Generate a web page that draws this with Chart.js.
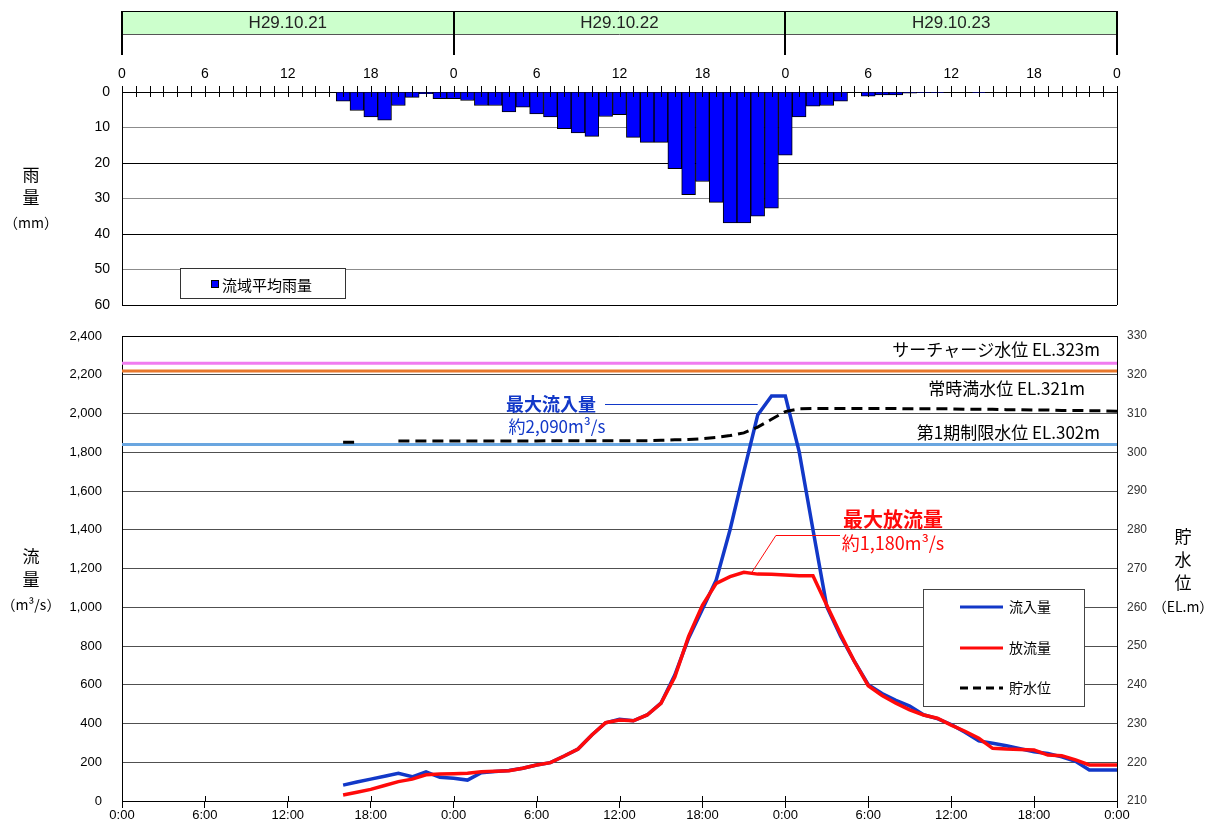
<!DOCTYPE html>
<html lang="ja">
<head>
<meta charset="utf-8">
<title>流入量・放流量・貯水位</title>
<script src="https://cdn.jsdelivr.net/npm/chart.js@4.4.1/dist/chart.umd.min.js"></script>
<style>
  html, body { margin: 0; padding: 0; background: #fff; }
  #wrap { position: relative; width: 1210px; height: 830px; overflow: hidden; }
  #rain { position: absolute; left: 0; top: 0; }
  #flow { position: absolute; left: 0; top: 320px; }
</style>
</head>
<body>
<div id="wrap">
  <canvas id="rain" width="1210" height="320"></canvas>
  <canvas id="flow" width="1210" height="510"></canvas>
</div>
<script>
// ---- data -------------------------------------------------------------
// Day band above the rain chart
const dayLabels = ['H29.10.21', 'H29.10.22', 'H29.10.23'];
// Hour labels (every 6 h) for the two time axes
const rainHourLabels = ['0', '6', '12', '18'];
const flowTimeLabels = ['0:00', '6:00', '12:00', '18:00'];

// Basin-average hourly rainfall (mm); hour counted from 0:00 on 10/21
const rainHours = [16, 17, 18, 19, 20, 21, 22, 23, 24, 25, 26, 27, 28, 29, 30, 31,
                   32, 33, 34, 35, 36, 37, 38, 39, 40, 41, 42, 43, 44, 45, 46, 47,
                   48, 49, 50, 51, 52, 54, 55, 56, 57, 58, 59, 62];
const rainMm =    [2.6, 5.2, 7.0, 7.9, 3.8, 1.5, 0.5, 1.9, 1.9, 2.4, 3.8, 3.8, 5.6, 4.3, 6.2, 7.0,
                   10.3, 11.5, 12.5, 6.9, 6.4, 12.8, 14.2, 14.2, 21.6, 28.9, 25.2, 31.1, 36.9, 36.9, 35.0, 32.7,
                   17.8, 7.0, 4.0, 3.8, 2.6, 1.2, 0.8, 0.8, 0.3, 0.2, 0.2, 0.2];

// Hourly inflow / outflow (m3/s) and reservoir level (EL.m)
const flowHours = [16, 17, 18, 19, 20, 21, 22, 23, 24, 25, 26, 27, 28, 29, 30, 31, 32, 33, 34,
                   35, 36, 37, 38, 39, 40, 41, 42, 43, 44, 45, 46, 47, 48, 49, 50, 51, 52, 53,
                   54, 55, 56, 57, 58, 59, 60, 61, 62, 63, 64, 65, 66, 67, 68, 69, 70, 71, 72];
const inflow =  [82, 98, 113, 128, 143, 125, 150, 122, 117, 108, 146, 152, 157, 169, 186, 198, 232, 268, 341,
                 404, 422, 414, 444, 505, 650, 840, 990, 1141, 1400, 1700, 1992, 2090, 2090, 1803, 1400, 1003, 850, 720,
                 600, 555, 520, 490, 445, 425, 395, 355, 310, 298, 285, 270, 254, 245, 228, 205, 160, 160, 160];
const outflow = [31, 45, 60, 80, 100, 113, 135, 139, 141, 143, 151, 153, 156, 169, 186, 198, 232, 268, 341,
                 404, 418, 414, 444, 504, 640, 850, 1010, 1123, 1158, 1180, 1171, 1170, 1166, 1163, 1163, 1010, 860, 720,
                 595, 545, 505, 470, 444, 427, 392, 360, 324, 272, 268, 266, 263, 237, 234, 212, 186, 186, 186];
const storageLevel = [302.6, 302.6, null, null, 302.9, 302.9, 302.9, 302.9, 302.9, 302.9, 302.9, 302.9, 302.9, 302.9, 302.9, 303.0, 303.0, 303.0, 303.0,
                      303.0, 303.0, 303.0, 303.0, 303.1, 303.2, 303.3, 303.5, 303.8, 304.3, 305.0, 306.5, 308.5, 310.5, 311.2, 311.3, 311.3, 311.3, 311.3,
                      311.3, 311.3, 311.3, 311.2, 311.2, 311.2, 311.2, 311.1, 311.1, 311.1, 311.0, 311.0, 310.9, 310.9, 310.8, 310.8, 310.7, 310.7, 310.6];

// Reference water levels (EL.m)
const refLevelNames = ['サーチャージ水位', '常時満水位', '第1期制限水位'];
const refLevels = [323, 321, 302];

// ---- styling helpers --------------------------------------------------
const NUM_FONT = "'Liberation Sans', Arial, sans-serif";
const JP_FONT = "'Noto Sans CJK JP', 'Noto Sans', sans-serif";
const INFLOW_COLOR = '#1238c8';
const OUTFLOW_COLOR = '#ff0a0a';
const REF_COLORS = ['#f07cf0', '#e8782c', '#6aa6e0'];

const crisp = v => Math.round(v) + 0.5;
const fmt = v => v.toLocaleString('en-US');
const hm = (hours, values) => hours.map((h, i) => ({ x: h, y: values[i] }));

// fixed axis box sizes; label overhang must not shrink the plot area
const fixWidth = w => s => { s.width = w; s.paddingTop = 0; s.paddingBottom = 0; };
const fixHeight = h => s => { s.height = h; s.paddingLeft = 0; s.paddingRight = 0; };

function vText(ctx, lines, x, ys, sizes) {
  ctx.textAlign = 'center';
  ctx.textBaseline = 'middle';
  ctx.fillStyle = '#000';
  lines.forEach((t, i) => {
    ctx.font = `${sizes[i]}px ${JP_FONT}`;
    ctx.fillText(t, x, ys[i]);
  });
}

// ---- rain chart -------------------------------------------------------
const rainDecor = {
  id: 'rainDecor',
  afterDraw(chart) {
    const { ctx, chartArea: a, scales: { x } } = chart;
    ctx.save();

    // day band
    const bandTop = 11, bandBottom = 34, dividerBottom = 55;
    dayLabels.forEach((d, i) => {
      const x0 = x.getPixelForValue(i * 24), x1 = x.getPixelForValue(i * 24 + 24);
      ctx.fillStyle = '#ccffcc';
      ctx.fillRect(x0, bandTop, x1 - x0, bandBottom - bandTop);
      ctx.fillStyle = '#222';
      ctx.font = `17px ${NUM_FONT}`;
      ctx.textAlign = 'center';
      ctx.textBaseline = 'middle';
      ctx.fillText(d, (x0 + x1) / 2, (bandTop + bandBottom) / 2 + 1);
    });
    ctx.lineWidth = 1;
    ctx.strokeStyle = '#000';
    ctx.beginPath();
    ctx.moveTo(a.left, bandTop + 0.5); ctx.lineTo(a.right, bandTop + 0.5);
    ctx.stroke();
    ctx.strokeStyle = '#555';
    ctx.beginPath();
    ctx.moveTo(a.left, bandBottom + 0.5); ctx.lineTo(a.right, bandBottom + 0.5);
    ctx.stroke();
    ctx.strokeStyle = '#000';
    ctx.lineWidth = 2;
    ctx.beginPath();
    for (let i = 0; i <= dayLabels.length; i++) {
      const px = Math.round(x.getPixelForValue(i * 24));
      ctx.moveTo(px, bandTop); ctx.lineTo(px, dividerBottom);
    }
    ctx.stroke();

    // hourly tick marks across the time axis
    ctx.lineWidth = 1;
    ctx.beginPath();
    for (let h = 0; h <= 72; h++) {
      const px = crisp(x.getPixelForValue(h));
      ctx.moveTo(px, a.top - 6); ctx.lineTo(px, a.top + 5);
    }
    // right and bottom frame
    ctx.moveTo(crisp(a.right), a.top); ctx.lineTo(crisp(a.right), a.bottom);
    ctx.moveTo(a.left, crisp(a.bottom)); ctx.lineTo(a.right, crisp(a.bottom));
    ctx.stroke();

    // legend
    ctx.fillStyle = '#fff';
    ctx.strokeStyle = '#333';
    ctx.fillRect(180.5, 268.5, 165, 30);
    ctx.strokeRect(180.5, 268.5, 165, 30);
    ctx.fillStyle = '#0000ff';
    ctx.fillRect(211.5, 280.5, 7, 7);
    ctx.strokeStyle = '#000';
    ctx.strokeRect(211.5, 280.5, 7, 7);
    ctx.fillStyle = '#000';
    ctx.font = `15px ${JP_FONT}`;
    ctx.textAlign = 'left';
    ctx.textBaseline = 'middle';
    ctx.fillText(chart.data.datasets[0].label, 222, 285);

    // axis title
    vText(ctx, ['雨', '量', '（mm）'], 31, [175, 198, 223], [17, 17, 14]);
    ctx.restore();
  }
};

new Chart(document.getElementById('rain'), {
  type: 'bar',
  data: {
    datasets: [{
      label: '流域平均雨量',
      data: hm(rainHours, rainMm),
      backgroundColor: '#0000ff',
      borderColor: '#000',
      borderWidth: 1,
      barPercentage: 1,
      categoryPercentage: 1
    }]
  },
  options: {
    responsive: false,
    animation: false,
    events: [],
    layout: { padding: { left: 0, right: 93, top: 0, bottom: 15 } },
    plugins: { legend: { display: false }, tooltip: { enabled: false } },
    scales: {
      x: {
        type: 'linear', position: 'top', min: 0, max: 72, offset: false,
        afterFit: fixHeight(92),
        ticks: {
          stepSize: 6, autoSkip: false, maxRotation: 0, padding: 9,
          color: '#000', font: { family: NUM_FONT, size: 14 },
          callback: v => rainHourLabels[(v / 6) % 4]
        },
        grid: { display: false, drawTicks: false, offset: false },
        border: { display: true, color: '#000', width: 1 }
      },
      y: {
        reverse: true, min: 0, max: 60,
        afterFit: fixWidth(122),
        ticks: { stepSize: 10, padding: 12, color: '#000', font: { family: NUM_FONT, size: 14 } },
        grid: {
          drawTicks: false,
          color: c => ((c.tick.value / 10) % 2 === 1 ? '#8c8c8c' : '#000')
        },
        border: { display: true, color: '#000', width: 1 }
      }
    }
  },
  plugins: [rainDecor]
});

// ---- flow / level chart -----------------------------------------------
const peakIn = Math.max(...inflow);
const peakOut = Math.max(...outflow);
const peakOutHour = flowHours[outflow.indexOf(peakOut)];
const peakInHour = flowHours[inflow.indexOf(peakIn)];

const flowDecor = {
  id: 'flowDecor',
  afterDraw(chart) {
    const { ctx, chartArea: a, scales: { x, y, y2 } } = chart;
    ctx.save();

    // top frame and inner part of the time ticks
    ctx.strokeStyle = '#000';
    ctx.lineWidth = 1;
    ctx.beginPath();
    ctx.moveTo(a.left, crisp(a.top)); ctx.lineTo(a.right, crisp(a.top));
    for (let h = 0; h <= 72; h += 6) {
      const px = crisp(x.getPixelForValue(h));
      ctx.moveTo(px, a.bottom - 5); ctx.lineTo(px, a.bottom);
    }
    ctx.stroke();

    // reference level captions
    const capDy = [-14, 18, -12];
    const capRight = [a.right - 17, a.right - 32, a.right - 17];
    ctx.fillStyle = '#000';
    ctx.font = `17px ${JP_FONT}`;
    ctx.textAlign = 'right';
    ctx.textBaseline = 'middle';
    refLevels.forEach((lv, i) => {
      ctx.fillText(`${refLevelNames[i]} EL.${lv}m`, capRight[i], y2.getPixelForValue(lv) + capDy[i]);
    });

    // peak inflow note
    ctx.textAlign = 'center';
    ctx.fillStyle = INFLOW_COLOR;
    ctx.font = `bold 18px ${JP_FONT}`;
    ctx.fillText('最大流入量', 551, 84);
    ctx.font = `17px ${JP_FONT}`;
    ctx.fillText(`約${fmt(peakIn)}m³/s`, 557, 107);
    ctx.strokeStyle = INFLOW_COLOR;
    ctx.beginPath();
    ctx.moveTo(605, 84.5);
    ctx.lineTo(x.getPixelForValue(peakInHour - 1), 84.5);
    ctx.stroke();

    // peak outflow note
    ctx.fillStyle = OUTFLOW_COLOR;
    ctx.font = `bold 20px ${JP_FONT}`;
    ctx.fillText('最大放流量', 893, 199);
    ctx.font = `18px ${JP_FONT}`;
    ctx.fillText(`約${fmt(peakOut)}m³/s`, 893, 223);
    ctx.strokeStyle = OUTFLOW_COLOR;
    const tipX = x.getPixelForValue(peakOutHour) + 8, tipY = y.getPixelForValue(peakOut);
    ctx.beginPath();
    ctx.moveTo(840, 215.5);
    ctx.lineTo(tipX + 24, 215.5);
    ctx.lineTo(tipX, tipY);
    ctx.stroke();

    // legend
    const lx = 923, ly = 269, lw = 161, lh = 117;
    ctx.fillStyle = '#fff';
    ctx.fillRect(lx, ly, lw, lh);
    ctx.strokeStyle = '#444';
    ctx.strokeRect(lx + 0.5, ly + 0.5, lw, lh);
    const items = [
      { label: '流入量', color: INFLOW_COLOR, dash: [], y: 287 },
      { label: '放流量', color: OUTFLOW_COLOR, dash: [], y: 328 },
      { label: '貯水位', color: '#000', dash: [8, 5], y: 368 }
    ];
    items.forEach(it => {
      ctx.strokeStyle = it.color;
      ctx.lineWidth = 3;
      ctx.setLineDash(it.dash);
      ctx.beginPath();
      ctx.moveTo(960, it.y); ctx.lineTo(1003, it.y);
      ctx.stroke();
      ctx.setLineDash([]);
      ctx.fillStyle = '#000';
      ctx.font = `14px ${JP_FONT}`;
      ctx.textAlign = 'left';
      ctx.fillText(it.label, 1009, it.y);
    });

    // axis titles
    vText(ctx, ['流', '量', '（m³/s）'], 31, [237, 260, 285], [17, 17, 14]);
    vText(ctx, ['貯', '水', '位', '（EL.m）'], 1183, [217, 240, 263, 287], [17, 17, 17, 14]);
    ctx.restore();
  }
};

const refDatasets = refLevels.map((lv, i) => ({
  label: refLevelNames[i],
  yAxisID: 'y2',
  data: [{ x: 0, y: lv }, { x: 72, y: lv }],
  borderColor: REF_COLORS[i],
  borderWidth: 3,
  order: 10 + i
}));

new Chart(document.getElementById('flow'), {
  type: 'line',
  data: {
    datasets: [
      {
        label: '貯水位', yAxisID: 'y2', data: hm(flowHours, storageLevel),
        borderColor: '#000', borderWidth: 3, borderDash: [11, 6], spanGaps: false, order: 0
      },
      {
        label: '放流量', yAxisID: 'y', data: hm(flowHours, outflow),
        borderColor: OUTFLOW_COLOR, borderWidth: 3.5, order: 1
      },
      {
        label: '流入量', yAxisID: 'y', data: hm(flowHours, inflow),
        borderColor: INFLOW_COLOR, borderWidth: 3.5, order: 2
      },
      ...refDatasets
    ]
  },
  options: {
    responsive: false,
    animation: false,
    events: [],
    layout: { padding: { left: 0, right: 0, top: 16, bottom: 0 } },
    elements: { point: { radius: 0 }, line: { tension: 0 } },
    plugins: { legend: { display: false }, tooltip: { enabled: false } },
    scales: {
      x: {
        type: 'linear', min: 0, max: 72,
        afterFit: fixHeight(29),
        ticks: {
          stepSize: 6, autoSkip: false, maxRotation: 0, padding: 0,
          color: '#000', font: { family: NUM_FONT, size: 13 },
          callback: v => flowTimeLabels[(v / 6) % 4]
        },
        grid: { display: true, drawOnChartArea: false, drawTicks: true, tickLength: 7, color: '#000' },
        border: { display: true, color: '#000', width: 1 }
      },
      y: {
        position: 'left', min: 0, max: 2400,
        afterFit: fixWidth(122),
        ticks: {
          stepSize: 200, padding: 20, color: '#000',
          font: { family: NUM_FONT, size: 13 }, callback: v => fmt(v)
        },
        grid: { drawTicks: false, color: '#505050' },
        border: { display: true, color: '#000', width: 1 }
      },
      y2: {
        position: 'right', min: 210, max: 330,
        afterFit: fixWidth(93),
        ticks: { stepSize: 10, padding: 10, color: '#333', font: { family: NUM_FONT, size: 12 } },
        grid: { drawOnChartArea: false, drawTicks: false },
        border: { display: true, color: '#000', width: 1 }
      }
    }
  },
  plugins: [flowDecor]
});
</script>
</body>
</html>
